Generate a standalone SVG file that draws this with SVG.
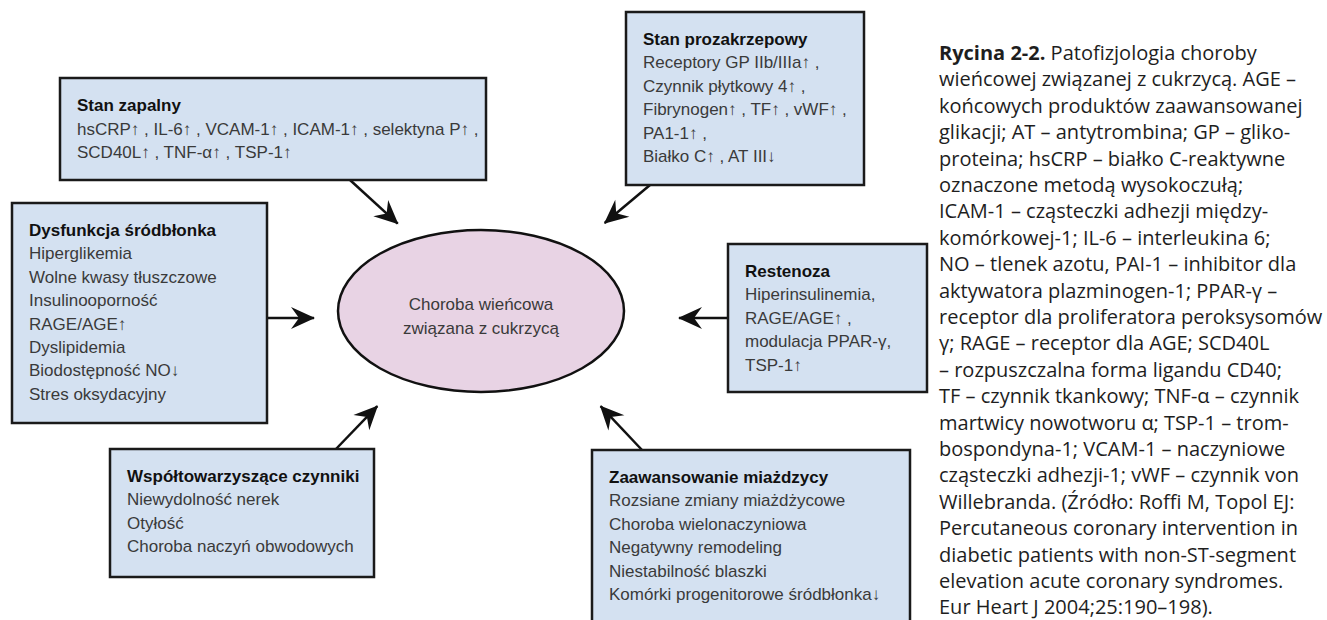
<svg xmlns="http://www.w3.org/2000/svg" width="1327" height="620" viewBox="0 0 1327 620">
<style>
.box{fill:#d4e1f1;stroke:#1a1a1a;stroke-width:2.5}
.ell{fill:#e8d3e4;stroke:#111;stroke-width:2.5}
.t{font-family:"Liberation Sans",Arial,sans-serif;font-size:17px;fill:#3a3a3a}
.h{font-family:"Liberation Sans",Arial,sans-serif;font-size:17px;font-weight:bold;fill:#111}
.c{font-family:"Open Sans","Noto Sans",sans-serif;font-size:20px;fill:#1e1e1e}
.cb{font-weight:bold}
.ln{stroke:#111;stroke-width:2.5;fill:none;marker-end:url(#ah)}
</style>
<defs>
<marker id="ah" markerUnits="userSpaceOnUse" markerWidth="40" markerHeight="40" viewBox="-12 -20 40 40" refX="14" refY="0" orient="auto">
<path d="M15,0 L-9,-11 L-1,0 L-9,11 Z" fill="#111"/>
</marker>
</defs>
<rect width="1327" height="620" fill="#fff"/>
<g id="connectors">
<line class="ln" x1="350" y1="180" x2="397.7" y2="223.6"/>
<line class="ln" x1="650" y1="185" x2="604.7" y2="223"/>
<line class="ln" x1="267" y1="318" x2="314" y2="318"/>
<line class="ln" x1="728" y1="318" x2="679" y2="318"/>
<line class="ln" x1="336" y1="449" x2="377.3" y2="406.1"/>
<line class="ln" x1="642" y1="450" x2="600.6" y2="406.2"/>
</g>
<g id="center">
<ellipse class="ell" cx="481" cy="311" rx="143" ry="81"/>
<text class="t" x="481" y="310" text-anchor="middle">Choroba wieńcowa</text>
<text class="t" x="481" y="334" text-anchor="middle">związana z cukrzycą</text>
</g>
<g id="stan-zapalny">
<rect class="box" x="60" y="78" width="426" height="102"/>
<text class="h" x="77" y="111">Stan zapalny</text>
<text class="t" x="77" y="135">hsCRP↑ , IL-6↑ , VCAM-1↑ , ICAM-1↑ , selektyna P↑ ,</text>
<text class="t" x="77" y="158">SCD40L↑ , TNF-α↑ , TSP-1↑</text>
</g>
<g id="stan-prozakrzepowy">
<rect class="box" x="626" y="12" width="238" height="173"/>
<text class="h" x="643" y="45">Stan prozakrzepowy</text>
<text class="t" x="643" y="68.4">Receptory GP IIb/IIIa↑ ,</text>
<text class="t" x="643" y="91.8">Czynnik płytkowy 4↑ ,</text>
<text class="t" x="643" y="115.2">Fibrynogen↑ , TF↑ , vWF↑ ,</text>
<text class="t" x="643" y="138.6">PA1-1↑ ,</text>
<text class="t" x="643" y="162">Białko C↑ , AT III↓</text>
</g>
<g id="dysfunkcja">
<rect class="box" x="12" y="203" width="255" height="220"/>
<text class="h" x="29" y="236">Dysfunkcja śródbłonka</text>
<text class="t" x="29" y="259.4">Hiperglikemia</text>
<text class="t" x="29" y="282.8">Wolne kwasy tłuszczowe</text>
<text class="t" x="29" y="306.2">Insulinooporność</text>
<text class="t" x="29" y="329.6">RAGE/AGE↑</text>
<text class="t" x="29" y="353">Dyslipidemia</text>
<text class="t" x="29" y="376.4">Biodostępność NO↓</text>
<text class="t" x="29" y="399.8">Stres oksydacyjny</text>
</g>
<g id="restenoza">
<rect class="box" x="728" y="244" width="199" height="148"/>
<text class="h" x="745" y="277">Restenoza</text>
<text class="t" x="745" y="300.4">Hiperinsulinemia,</text>
<text class="t" x="745" y="323.8">RAGE/AGE↑ ,</text>
<text class="t" x="745" y="347.2">modulacja PPAR-γ,</text>
<text class="t" x="745" y="370.6">TSP-1↑</text>
</g>
<g id="wspoltowarzyszace">
<rect class="box" x="110" y="449" width="264" height="128"/>
<text class="h" x="127" y="482">Współtowarzyszące czynniki</text>
<text class="t" x="127" y="505.4">Niewydolność nerek</text>
<text class="t" x="127" y="528.8">Otyłość</text>
<text class="t" x="127" y="552.2">Choroba naczyń obwodowych</text>
</g>
<g id="zaawansowanie">
<rect class="box" x="592" y="450" width="318" height="200"/>
<text class="h" x="609" y="483">Zaawansowanie miażdzycy</text>
<text class="t" x="609" y="506.4">Rozsiane zmiany miażdżycowe</text>
<text class="t" x="609" y="529.8">Choroba wielonaczyniowa</text>
<text class="t" x="609" y="553.2">Negatywny remodeling</text>
<text class="t" x="609" y="576.6">Niestabilność blaszki</text>
<text class="t" x="609" y="600">Komórki progenitorowe śródbłonka↓</text>
</g>
<g id="caption" class="c">
<text x="939" y="60"><tspan class="cb">Rycina 2-2.</tspan> Patofizjologia choroby</text>
<text x="939" y="86.4">wieńcowej związanej z cukrzycą. AGE –</text>
<text x="939" y="112.8">końcowych produktów zaawansowanej</text>
<text x="939" y="139.2">glikacji; AT – antytrombina; GP – gliko-</text>
<text x="939" y="165.6">proteina; hsCRP – białko C-reaktywne</text>
<text x="939" y="192">oznaczone metodą wysokoczułą;</text>
<text x="939" y="218.4">ICAM-1 – cząsteczki adhezji między-</text>
<text x="939" y="244.8">komórkowej-1; IL-6 – interleukina 6;</text>
<text x="939" y="271.2">NO – tlenek azotu, PAI-1 – inhibitor dla</text>
<text x="939" y="297.6">aktywatora plazminogen-1; PPAR-γ –</text>
<text x="939" y="324">receptor dla proliferatora peroksysomów</text>
<text x="939" y="350.4">γ; RAGE – receptor dla AGE; SCD40L</text>
<text x="939" y="376.8">– rozpuszczalna forma ligandu CD40;</text>
<text x="939" y="403.2">TF – czynnik tkankowy; TNF-α – czynnik</text>
<text x="939" y="429.6">martwicy nowotworu α; TSP-1 – trom-</text>
<text x="939" y="456">bospondyna-1; VCAM-1 – naczyniowe</text>
<text x="939" y="482.4">cząsteczki adhezji-1; vWF – czynnik von</text>
<text x="939" y="508.8">Willebranda. (Źródło: Roffi M, Topol EJ:</text>
<text x="939" y="535.2">Percutaneous coronary intervention in</text>
<text x="939" y="561.6">diabetic patients with non-ST-segment</text>
<text x="939" y="588">elevation acute coronary syndromes.</text>
<text x="939" y="614">Eur Heart J 2004;25:190–198).</text>
</g>
</svg>
